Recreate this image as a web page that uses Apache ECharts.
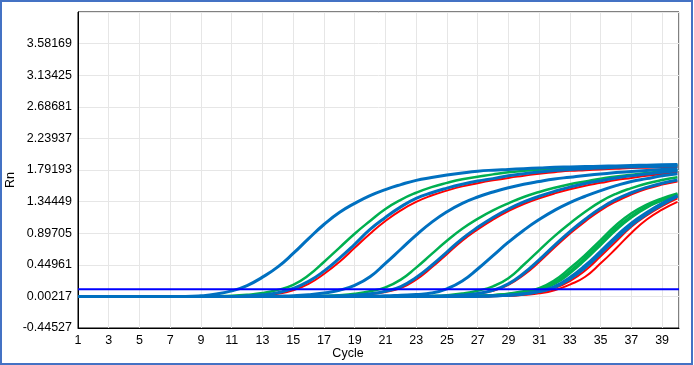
<!DOCTYPE html>
<html>
<head>
<meta charset="utf-8">
<script src="https://cdn.jsdelivr.net/npm/echarts@6/dist/echarts.min.js"></script>
<style>html,body{margin:0;padding:0;background:#fff}#c{width:694px;height:365px}</style>
</head>
<body>
<div id="c"></div>
<script>
// cycles 1..40
const cycles = Array.from({length: 40}, (_, i) => i + 1);
const yTicks = [-0.44527, 0.00217, 0.44961, 0.89705, 1.34449, 1.79193, 2.23937, 2.68681, 3.13425, 3.58169];
const threshold = 0.104;

// Group 1
const g1Blue = [0,0,0,0,0,0,0,0,0.01,0.035,0.08,0.155,0.275,0.42,0.61,0.82,1.02,1.19,1.32,1.43,1.515,1.585,1.645,1.685,1.72,1.75,1.775,1.79,1.80,1.81,1.82,1.83,1.835,1.84,1.845,1.85,1.855,1.86,1.865,1.87];
// Group 2
const g2Green = [0,0,0,0,0,0,0,0,0,0.005,0.01,0.025,0.05,0.095,0.165,0.30,0.49,0.69,0.89,1.07,1.24,1.37,1.47,1.55,1.61,1.66,1.695,1.73,1.76,1.78,1.795,1.81,1.82,1.83,1.835,1.84,1.845,1.85,1.855,1.86];
const g2Blue = [0,0,0,0,0,0,0,0,0,0,0,0.01,0.025,0.055,0.115,0.215,0.36,0.54,0.74,0.95,1.12,1.27,1.39,1.47,1.535,1.59,1.635,1.67,1.71,1.74,1.765,1.785,1.80,1.81,1.82,1.83,1.835,1.84,1.845,1.85];
const g2Red = [0,0,0,0,0,0,0,0,0,0,0,0.005,0.015,0.04,0.09,0.18,0.32,0.49,0.69,0.89,1.07,1.22,1.34,1.43,1.50,1.56,1.605,1.645,1.68,1.71,1.74,1.76,1.78,1.79,1.80,1.81,1.82,1.825,1.83,1.835];
// Group 3
const g3Blue = [0,0,0,0,0,0,0,0,0,0,0,0,0,0.005,0.01,0.025,0.05,0.09,0.16,0.28,0.47,0.67,0.87,1.05,1.20,1.32,1.41,1.48,1.54,1.59,1.63,1.665,1.69,1.715,1.735,1.755,1.77,1.785,1.80,1.81];
// Group 4
const g4Green = [0,0,0,0,0,0,0,0,0,0,0,0,0,0,0,0.005,0.01,0.02,0.04,0.075,0.13,0.24,0.41,0.60,0.79,0.96,1.10,1.22,1.32,1.41,1.48,1.54,1.59,1.63,1.67,1.70,1.725,1.75,1.77,1.79];
const g4Blue = [0,0,0,0,0,0,0,0,0,0,0,0,0,0,0,0,0.005,0.01,0.02,0.04,0.075,0.14,0.27,0.44,0.63,0.82,0.98,1.12,1.24,1.34,1.42,1.49,1.55,1.60,1.64,1.68,1.71,1.735,1.76,1.78];
const g4Red = [0,0,0,0,0,0,0,0,0,0,0,0,0,0,0,0,0.005,0.01,0.02,0.035,0.065,0.12,0.24,0.41,0.60,0.79,0.95,1.09,1.21,1.31,1.39,1.46,1.52,1.57,1.61,1.65,1.68,1.71,1.735,1.76];
// Group 5
const g5Blue = [0,0,0,0,0,0,0,0,0,0,0,0,0,0,0,0,0,0,0,0.005,0.01,0.02,0.03,0.05,0.11,0.22,0.39,0.58,0.77,0.94,1.09,1.22,1.33,1.42,1.50,1.57,1.63,1.67,1.71,1.74];
// Group 6
const g6Green = [0,0,0,0,0,0,0,0,0,0,0,0,0,0,0,0,0,0,0,0,0,0,0.004,0.009,0.02,0.043,0.083,0.145,0.26,0.45,0.655,0.855,1.035,1.20,1.345,1.455,1.535,1.60,1.65,1.69];
const g6Blue = [0,0,0,0,0,0,0,0,0,0,0,0,0,0,0,0,0,0,0,0,0,0,0,0.003,0.01,0.022,0.045,0.09,0.18,0.33,0.52,0.725,0.92,1.095,1.25,1.375,1.47,1.545,1.605,1.65];
const g6Red = [0,0,0,0,0,0,0,0,0,0,0,0,0,0,0,0,0,0,0,0,0,0,0,0.003,0.008,0.018,0.04,0.08,0.165,0.305,0.49,0.695,0.89,1.065,1.22,1.345,1.445,1.525,1.585,1.63];
// Group 7
const g7Green1 = [0,0,0,0,0,0,0,0,0,0,0,0,0,0,0,0,0,0,0,0,0,0,0,0,0,0.005,0.01,0.02,0.04,0.075,0.12,0.23,0.40,0.59,0.80,1.01,1.18,1.30,1.39,1.46];
const g7Green2 = [0,0,0,0,0,0,0,0,0,0,0,0,0,0,0,0,0,0,0,0,0,0,0,0,0,0.005,0.01,0.02,0.035,0.065,0.11,0.20,0.36,0.55,0.76,0.97,1.14,1.27,1.37,1.45];
const g7Green3 = [0,0,0,0,0,0,0,0,0,0,0,0,0,0,0,0,0,0,0,0,0,0,0,0,0,0.004,0.008,0.018,0.032,0.06,0.10,0.18,0.33,0.52,0.73,0.94,1.12,1.26,1.36,1.44];
const g7Blue1 = [0,0,0,0,0,0,0,0,0,0,0,0,0,0,0,0,0,0,0,0,0,0,0,0,0,0,0.005,0.01,0.02,0.04,0.075,0.14,0.27,0.44,0.64,0.85,1.04,1.19,1.32,1.43];
const g7Blue2 = [0,0,0,0,0,0,0,0,0,0,0,0,0,0,0,0,0,0,0,0,0,0,0,0,0,0,0.004,0.009,0.018,0.036,0.07,0.13,0.25,0.41,0.61,0.82,1.01,1.17,1.30,1.42];
const g7Red1 = [0,0,0,0,0,0,0,0,0,0,0,0,0,0,0,0,0,0,0,0,0,0,0,0,0,0,0,0.005,0.01,0.025,0.045,0.09,0.17,0.28,0.47,0.68,0.90,1.09,1.23,1.34];
const g7Red2 = [0,0,0,0,0,0,0,0,0,0,0,0,0,0,0,0,0,0,0,0,0,0,0,0,0,0,0.004,0.008,0.015,0.03,0.06,0.12,0.22,0.37,0.57,0.78,0.99,1.15,1.28,1.39];

const BLUE = '#0070C0', GREEN = '#00B050', RED = '#FF0000';
const curves = [
  [g2Red, RED], [g4Red, RED], [g6Red, RED], [g7Red1, RED], [g7Red2, RED],
  [g2Green, GREEN], [g4Green, GREEN], [g6Green, GREEN], [g7Green1, GREEN], [g7Green2, GREEN], [g7Green3, GREEN],
  [g1Blue, BLUE], [g2Blue, BLUE], [g3Blue, BLUE], [g4Blue, BLUE], [g5Blue, BLUE], [g6Blue, BLUE], [g7Blue1, BLUE], [g7Blue2, BLUE]
];

const chart = echarts.init(document.getElementById('c'), null, {renderer: 'canvas'});
const FONT = 'Liberation Sans';
const series = curves.map(([vals, col]) => ({
  type: 'line',
  data: cycles.map((c, i) => [c, vals[i]]),
  smooth: 0.5,
  showSymbol: false,
  silent: true,
  lineStyle: {color: col, width: col === BLUE ? 3 : (col === GREEN ? 2.5 : 2)},
  z: col === BLUE ? 4 : (col === GREEN ? 3 : 2)
}));
series.push({
  type: 'line',
  data: [[1, threshold], [40.1, threshold]],
  showSymbol: false,
  silent: true,
  lineStyle: {color: '#0000FF', width: 2},
  z: 6
});

chart.setOption({
  animation: false,
  backgroundColor: '#fff',
  grid: {left: 78, top: 12, right: 15, bottom: 37, show: true, borderColor: '#000', borderWidth: 1, backgroundColor: 'transparent'},
  xAxis: {
    type: 'value', min: 1, max: 40.1, interval: 2,
    axisLine: {show: true, onZero: false, lineStyle: {color: '#000', width: 1}},
    axisTick: {show: false},
    axisLabel: {color: '#000', fontFamily: FONT, fontSize: 12.5, margin: 6, showMaxLabel: false},
    splitLine: {show: true, lineStyle: {color: '#e6e6e6', width: 1}}
  },
  yAxis: {
    type: 'value', min: yTicks[0], max: 4.02913, interval: 0.44744,
    axisLine: {show: true, onZero: false, lineStyle: {color: '#000', width: 1}},
    axisTick: {show: false},
    axisLabel: {color: '#000', fontFamily: FONT, fontSize: 12.5, margin: 6, showMaxLabel: false,
      formatter: v => v.toFixed(5)},
    splitLine: {show: true, lineStyle: {color: '#e6e6e6', width: 1}}
  },
  graphic: [
    {type: 'rect', shape: {x: 1, y: 1, width: 691, height: 363}, style: {fill: 'none', stroke: '#4472C4', lineWidth: 2}, z: 100, silent: true},
    {type: 'text', x: 348, y: 354, style: {text: 'Cycle', font: '12.5px "Liberation Sans"', fill: '#000', align: 'center', verticalAlign: 'middle'}, z: 100},
    {type: 'text', x: 11, y: 180, rotation: Math.PI / 2, style: {text: 'Rn', font: '12.5px "Liberation Sans"', fill: '#000', align: 'center', verticalAlign: 'middle'}, z: 100}
  ],
  series
});
</script>
</body>
</html>
